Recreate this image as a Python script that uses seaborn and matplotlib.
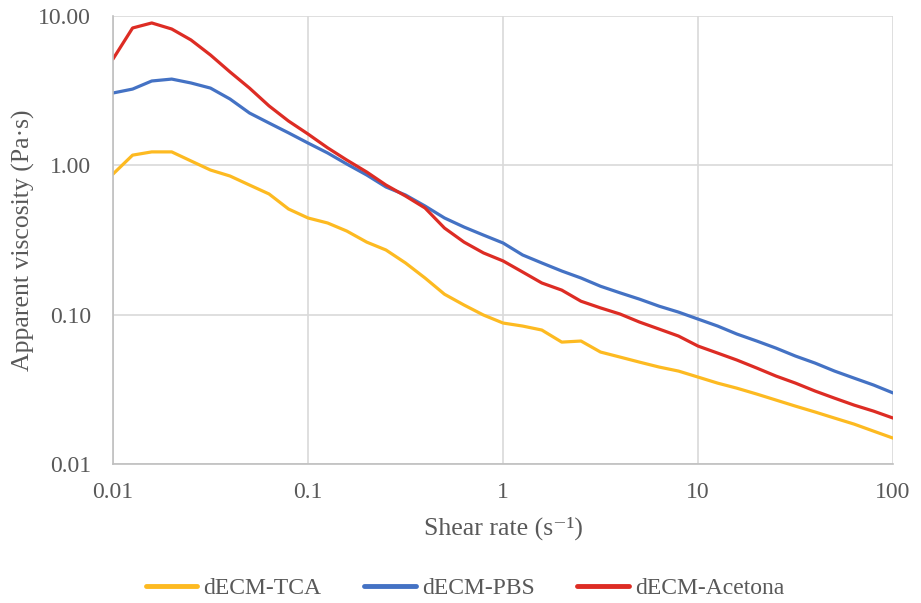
import seaborn as sns
import pandas as pd
import numpy as np
import matplotlib.pyplot as plt
from matplotlib.ticker import LogLocator, NullFormatter, FixedLocator

# shear rate (1/s), rheometer steps
shear_rate = [0.01, 0.0126, 0.0158, 0.02, 0.0251, 0.0316, 0.0398, 0.0501, 0.0631, 0.0794,
              0.1, 0.126, 0.158, 0.2, 0.251, 0.316, 0.398, 0.501, 0.631, 0.794,
              1, 1.26, 1.58, 2, 2.51, 3.16, 3.98, 5.01, 6.31, 7.94,
              10, 12.6, 15.8, 20, 25.1, 31.6, 39.8, 50.1, 63.1, 79.4, 100]

visc_tca = [0.874, 1.17, 1.23, 1.23, 1.07, 0.930, 0.848, 0.738, 0.643, 0.510,
            0.444, 0.411, 0.363, 0.306, 0.271, 0.222, 0.176, 0.137, 0.116, 0.0994,
            0.0879, 0.0839, 0.0789, 0.0655, 0.0666, 0.0562, 0.0520, 0.0481, 0.0446, 0.0419,
            0.0382, 0.0348, 0.0322, 0.0294, 0.0268, 0.0244, 0.0223, 0.0203, 0.0185, 0.0166, 0.0149]

visc_pbs = [3.05, 3.24, 3.67, 3.78, 3.56, 3.29, 2.78, 2.24, 1.92, 1.65,
            1.41, 1.21, 1.02, 0.861, 0.716, 0.633, 0.534, 0.444, 0.386, 0.341,
            0.302, 0.251, 0.222, 0.196, 0.176, 0.155, 0.140, 0.127, 0.114, 0.104,
            0.0934, 0.0839, 0.0742, 0.0666, 0.0597, 0.0528, 0.0474, 0.0419, 0.0376, 0.0338, 0.0299]

visc_acetona = [5.15, 8.31, 8.98, 8.18, 6.91, 5.48, 4.22, 3.29, 2.50, 1.98,
                1.62, 1.31, 1.085, 0.902, 0.738, 0.623, 0.518, 0.380, 0.306, 0.259,
                0.229, 0.193, 0.163, 0.146, 0.123, 0.111, 0.101, 0.0892, 0.0801, 0.0719,
                0.0616, 0.0553, 0.0497, 0.0439, 0.0388, 0.0348, 0.0308, 0.0276, 0.0248, 0.0226, 0.0203]

labels = ["dECM-TCA", "dECM-PBS", "dECM-Acetona"]
colors = ["#FDBA21", "#4472C4", "#DD2C24"]

df = pd.concat([
    pd.DataFrame({"x": shear_rate, "y": v, "sample": lab})
    for v, lab in zip([visc_tca, visc_pbs, visc_acetona], labels)
])

sns.set_style("white")
plt.rcParams['font.family'] = ['Liberation Serif', 'DejaVu Serif']
grey = "#595959"

fig = plt.figure(figsize=(9.21, 6.03), dpi=100)
ax = fig.add_axes([0.1227, 0.2305, 0.847, 0.743])

sns.lineplot(data=df, x="x", y="y", hue="sample", palette=colors,
             linewidth=2.3, ax=ax, legend=True, estimator=None, sort=False)

ax.set_xscale("log")
ax.set_yscale("log")
ax.set_xlim(0.01, 100)
ax.set_ylim(0.01, 10)

ax.xaxis.set_major_locator(FixedLocator([0.01, 0.1, 1, 10, 100]))
ax.yaxis.set_major_locator(FixedLocator([0.01, 0.1, 1, 10]))
ax.set_xticklabels(["0.01", "0.1", "1", "10", "100"])
ax.set_yticklabels(["0.01", "0.10", "1.00", "10.00"])
ax.xaxis.set_minor_locator(LogLocator(base=10, subs=np.arange(2, 10)))
ax.yaxis.set_minor_locator(LogLocator(base=10, subs=np.arange(2, 10)))
ax.xaxis.set_minor_formatter(NullFormatter())
ax.yaxis.set_minor_formatter(NullFormatter())

ax.grid(True, which="major", color="#D9D9D9", linewidth=1.2)
ax.tick_params(which="major", length=0, labelsize=17, labelcolor=grey)
ax.tick_params(axis="y", which="major", pad=16)
ax.tick_params(axis="x", which="major", pad=13)
ax.tick_params(which="minor", direction="in", length=5, color="#BFBFBF", width=1)
for s in ["top", "right"]:
    ax.spines[s].set_visible(False)
for s in ["left", "bottom"]:
    ax.spines[s].set_color("#BFBFBF")
    ax.spines[s].set_linewidth(1.2)

ax.set_xlabel("Shear rate (s⁻¹)", fontsize=18.5, color=grey, labelpad=10)
ax.set_ylabel("Apparent viscosity (Pa·s)", fontsize=18.5, color=grey)
ax.yaxis.set_label_coords(-0.100, 0.5)

ax.legend(loc="center", bbox_to_anchor=(0.451, -0.278), ncol=3, frameon=False,
          fontsize=17, labelcolor=grey, handlelength=2.2, handletextpad=0.25,
          columnspacing=1.8)
for line in ax.get_legend().get_lines():
    line.set_linewidth(3.5)

plt.savefig("out.png", dpi=100)
